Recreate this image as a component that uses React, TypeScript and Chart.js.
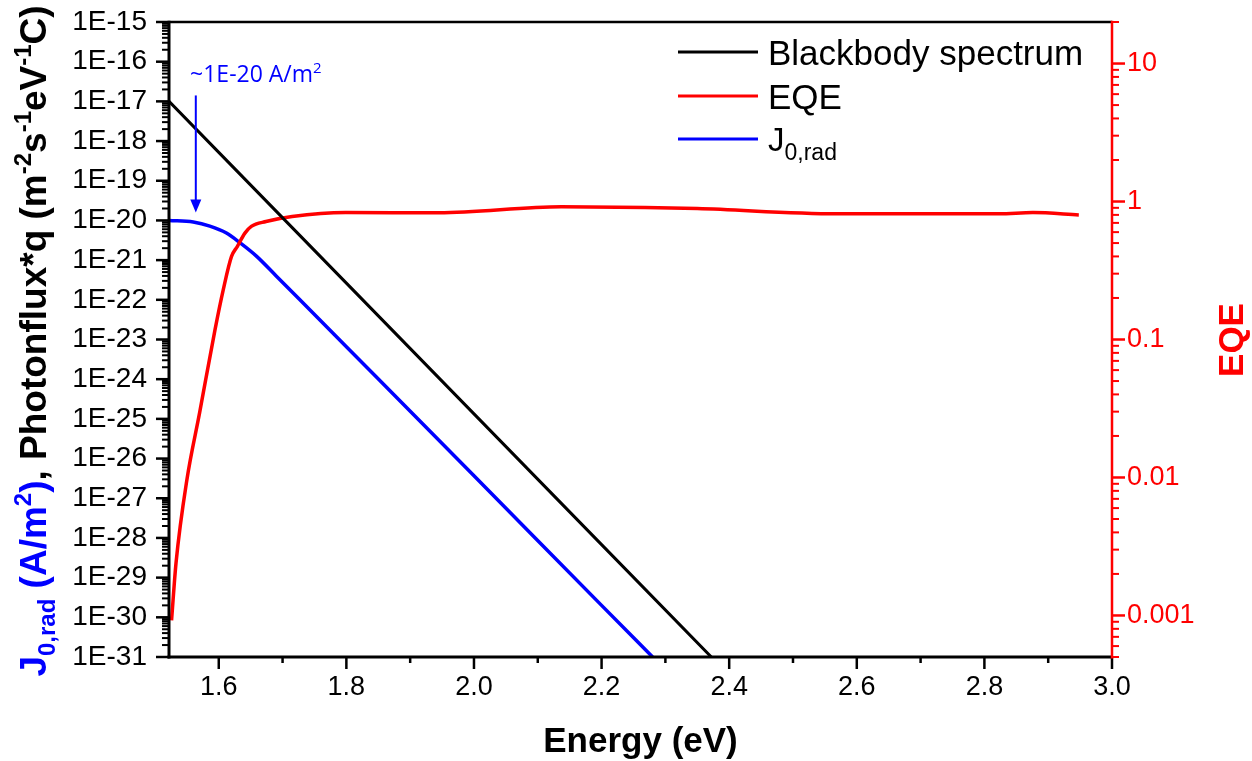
import React, { useEffect, useRef } from "react";
import { Chart, registerables } from "chart.js";

Chart.register(...registerables);

// ---------------- data ----------------
const bbEnergy = [1.522, 1.6, 1.8, 2.0, 2.2, 2.372];
const bbFlux = [1e-17, 5.2e-19, 2.64e-22, 1.34e-25, 6.8e-29, 1e-31];

const j0Energy = [1.522, 1.56, 1.586, 1.612, 1.633, 1.659, 1.69, 1.726, 1.8, 2.0, 2.2, 2.28];
const j0Values = [1e-20, 9.1e-21, 7.2e-21, 4.8e-21, 2.75e-21, 1.26e-21, 4.0e-22, 1.05e-22, 6.6e-24, 3.7e-27, 2.0e-30, 1e-31];

const eqeEnergy = [1.526, 1.533, 1.55, 1.57, 1.594, 1.607, 1.62, 1.629, 1.641, 1.651, 1.674, 1.715, 1.799, 1.945, 2.137, 2.268, 2.35, 2.569, 2.662, 2.823, 2.876, 2.948];
const eqeValues = [0.00092, 0.0024, 0.0096, 0.0295, 0.117, 0.229, 0.4, 0.472, 0.59, 0.66, 0.716, 0.778, 0.832, 0.828, 0.916, 0.905, 0.889, 0.815, 0.815, 0.815, 0.832, 0.8];

const seriesNames = ["Blackbody spectrum", "EQE", "J0,rad"];

const xMajorTicks = [1.6, 1.8, 2.0, 2.2, 2.4, 2.6, 2.8, 3.0];
const xMinorTicks = [1.7, 1.9, 2.1, 2.3, 2.5, 2.7, 2.9];
const leftDecades = [-31, -30, -29, -28, -27, -26, -25, -24, -23, -22, -21, -20, -19, -18, -17, -16, -15];
const eqeTickValues = [0.001, 0.01, 0.1, 1, 10];
const eqeTickLabels = ["0.001", "0.01", "0.1", "1", "10"];

// annotation (data units)
const annotText = "~1E-20 A/m";
const annotX = 1.555;
const annotTextY = 3.1e-17;
const arrowX = 1.564;
const arrowTop = 1.41e-17;
const arrowTip = 1.58e-20;

const BLUE = "#0000ff";
const RED = "#ff0000";
const BLACK = "#000000";
const FONT = "'Liberation Sans', Arial, sans-serif";

type Part = { t: string; s: number; c: string; dy?: number; bold?: boolean; fam?: string };

function drawRich(ctx: CanvasRenderingContext2D, parts: Part[], x: number, y: number, anchor: "start" | "center") {
  ctx.textBaseline = "alphabetic";
  ctx.textAlign = "left";
  const widths = parts.map((p) => {
    ctx.font = `${p.bold ? "bold " : ""}${p.s}px ${p.fam || FONT}`;
    return ctx.measureText(p.t).width;
  });
  const total = widths.reduce((a, b) => a + b, 0);
  let cx = anchor === "center" ? x - total / 2 : x;
  parts.forEach((p, i) => {
    ctx.font = `${p.bold ? "bold " : ""}${p.s}px ${p.fam || FONT}`;
    ctx.fillStyle = p.c;
    ctx.fillText(p.t, cx, y + (p.dy || 0));
    cx += widths[i];
  });
}

const zeroPad = (s: any) => {
  s.paddingTop = 0;
  s.paddingBottom = 0;
  s.paddingLeft = 0;
  s.paddingRight = 0;
};

const decorPlugin = {
  id: "decor",
  afterDraw(chart: any) {
    const { ctx, chartArea: ca, scales } = chart;
    const xs = scales.x;
    const ys = scales.y;
    const y2 = scales.y2;
    const seg = (x1: number, yA: number, x2: number, yB: number) => {
      ctx.beginPath();
      ctx.moveTo(x1, yA);
      ctx.lineTo(x2, yB);
      ctx.stroke();
    };
    ctx.save();
    ctx.lineCap = "butt";

    // frame
    ctx.strokeStyle = BLACK;
    ctx.lineWidth = 2.5;
    seg(ca.left, ca.top, ca.right, ca.top);
    ctx.lineWidth = 3;
    seg(ca.left, ca.top - 1.25, ca.left, ca.bottom + 1.5);
    seg(ca.left - 1.5, ca.bottom, ca.right, ca.bottom);

    // left ticks
    leftDecades.forEach((n) => {
      const v = Number(`1e${n}`);
      const py = ys.getPixelForValue(v);
      ctx.lineWidth = 2.5;
      seg(ca.left - 13, py, ca.left, py);
      if (n < -15) {
        ctx.lineWidth = 2;
        for (let m = 2; m <= 9; m++) {
          const pm = ys.getPixelForValue(Number(`${m}e${n}`));
          seg(ca.left - 7, pm, ca.left, pm);
        }
      }
    });

    // x ticks
    ctx.lineWidth = 2.5;
    xMajorTicks.forEach((v) => {
      const px = xs.getPixelForValue(v);
      seg(px, ca.bottom, px, ca.bottom + 12);
    });
    xMinorTicks.forEach((v) => {
      const px = xs.getPixelForValue(v);
      seg(px, ca.bottom, px, ca.bottom + 6);
    });

    // right axis (red)
    ctx.strokeStyle = RED;
    ctx.lineWidth = 2.5;
    seg(ca.right, ca.top - 1.25, ca.right, ca.bottom + 1.5);
    for (let n = -4; n <= 1; n++) {
      for (let m = 1; m <= 9; m++) {
        const v = Number(`${m}e${n}`);
        if (v < y2.min || v > y2.max) continue;
        const py = y2.getPixelForValue(v);
        if (m === 1) {
          ctx.lineWidth = 2.5;
          seg(ca.right, py, ca.right + 13, py);
        } else {
          ctx.lineWidth = 2;
          seg(ca.right, py, ca.right + 7, py);
        }
      }
    }

    // legend
    const legendRows = [
      { parts: [{ t: seriesNames[0], s: 35, c: BLACK }], color: BLACK, y: 52 },
      { parts: [{ t: seriesNames[1], s: 35, c: BLACK }], color: RED, y: 96 },
      {
        parts: [
          { t: "J", s: 33, c: BLACK },
          { t: "0,rad", s: 23, c: BLACK, dy: 9 },
        ],
        color: BLUE,
        y: 139,
      },
    ];
    const lx0 = ca.right - 434;
    const lx1 = ca.right - 354;
    legendRows.forEach((r, i) => {
      const ry = ca.top + r.y - 22;
      ctx.strokeStyle = r.color;
      ctx.lineWidth = 3;
      seg(lx0, ry, lx1, ry);
      drawRich(ctx, r.parts as Part[], lx1 + 10, ry + (i === 2 ? 12 : 12.5), "start");
    });

    // annotation
    const ax = xs.getPixelForValue(arrowX);
    const aTop = ys.getPixelForValue(arrowTop);
    const aTip = ys.getPixelForValue(arrowTip);
    ctx.strokeStyle = BLUE;
    ctx.fillStyle = BLUE;
    ctx.lineWidth = 2;
    seg(ax, aTop, ax, aTip - 10);
    ctx.beginPath();
    ctx.moveTo(ax, aTip);
    ctx.lineTo(ax - 5.5, aTip - 13);
    ctx.lineTo(ax + 5.5, aTip - 13);
    ctx.closePath();
    ctx.fill();
    drawRich(
      ctx,
      [
        { t: annotText, s: 23, c: BLUE, fam: "'Open Sans', sans-serif" },
        { t: "2", s: 15, c: BLUE, dy: -9, fam: "'Open Sans', sans-serif" },
      ],
      xs.getPixelForValue(annotX),
      ys.getPixelForValue(annotTextY),
      "start"
    );

    // x title
    ctx.textAlign = "center";
    ctx.textBaseline = "alphabetic";
    ctx.fillStyle = BLACK;
    ctx.font = `bold 35px ${FONT}`;
    ctx.fillText("Energy (eV)", (ca.left + ca.right) / 2, ca.bottom + 95);

    // left title (rotated)
    ctx.save();
    ctx.translate(46, 341);
    ctx.rotate(-Math.PI / 2);
    drawRich(
      ctx,
      [
        { t: "J", s: 37, c: BLUE, bold: true },
        { t: "0,rad", s: 24, c: BLUE, dy: 9, bold: true },
        { t: " (A/m", s: 37, c: BLUE, bold: true },
        { t: "2", s: 24, c: BLUE, dy: -15, bold: true },
        { t: ")", s: 37, c: BLUE, bold: true },
        { t: ", Photonflux*q (m", s: 37, c: BLACK, bold: true },
        { t: "-2", s: 24, c: BLACK, dy: -15, bold: true },
        { t: "s", s: 37, c: BLACK, bold: true },
        { t: "-1", s: 24, c: BLACK, dy: -15, bold: true },
        { t: "eV", s: 37, c: BLACK, bold: true },
        { t: "-1", s: 24, c: BLACK, dy: -15, bold: true },
        { t: "C)", s: 37, c: BLACK, bold: true },
      ],
      0,
      0,
      "center"
    );
    ctx.restore();

    // right title
    ctx.save();
    ctx.translate(1243, 340);
    ctx.rotate(-Math.PI / 2);
    ctx.textAlign = "center";
    ctx.textBaseline = "alphabetic";
    ctx.fillStyle = RED;
    ctx.font = `bold 35px ${FONT}`;
    ctx.fillText("EQE", 0, 0);
    ctx.restore();

    ctx.restore();
  },
};

export default function App() {
  const ref = useRef<HTMLCanvasElement | null>(null);

  useEffect(() => {
    if (!ref.current) return;
    const chart = new Chart(ref.current, {
      type: "line",
      data: {
        datasets: [
          {
            label: seriesNames[0],
            data: bbEnergy.map((x, i) => ({ x, y: bbFlux[i] })),
            borderColor: BLACK,
            borderWidth: 3,
            pointRadius: 0,
            yAxisID: "y",
            tension: 0,
          },
          {
            label: seriesNames[1],
            data: eqeEnergy.map((x, i) => ({ x, y: eqeValues[i] })),
            borderColor: RED,
            borderWidth: 3.5,
            pointRadius: 0,
            yAxisID: "y2",
            cubicInterpolationMode: "monotone",
          },
          {
            label: seriesNames[2],
            data: j0Energy.map((x, i) => ({ x, y: j0Values[i] })),
            borderColor: BLUE,
            borderWidth: 3.5,
            pointRadius: 0,
            yAxisID: "y",
            cubicInterpolationMode: "monotone",
          },
        ],
      },
      options: {
        responsive: false,
        animation: false,
        devicePixelRatio: 1,
        layout: { padding: { top: 22, left: 0, right: 0, bottom: 0 } },
        plugins: {
          legend: { display: false },
          tooltip: { enabled: false },
        },
        scales: {
          x: {
            type: "linear",
            position: "bottom",
            min: 1.522,
            max: 3.0,
            grid: { display: false, drawTicks: false },
            border: { display: false },
            afterBuildTicks: (s: any) => {
              s.ticks = xMajorTicks.map((value) => ({ value }));
            },
            afterFit: (s: any) => {
              s.height = 104;
              zeroPad(s);
            },
            ticks: {
              autoSkip: false,
              maxRotation: 0,
              padding: 14,
              color: BLACK,
              font: { family: FONT, size: 27 },
              callback: (v: any) => Number(v).toFixed(1),
            },
          },
          y: {
            type: "logarithmic",
            position: "left",
            min: 1e-31,
            max: 1e-15,
            grid: { display: false, drawTicks: false },
            border: { display: false },
            afterBuildTicks: (s: any) => {
              s.ticks = leftDecades.map((n) => ({ value: Number(`1e${n}`) }));
            },
            afterFit: (s: any) => {
              s.width = 169;
              zeroPad(s);
            },
            ticks: {
              autoSkip: false,
              padding: 22,
              color: BLACK,
              font: { family: FONT, size: 28 },
              callback: (v: any) => `1E${Math.round(Math.log10(Number(v)))}`,
            },
          },
          y2: {
            type: "logarithmic",
            position: "right",
            min: 0.0005,
            max: 20,
            grid: { display: false, drawTicks: false },
            border: { display: false },
            afterBuildTicks: (s: any) => {
              s.ticks = eqeTickValues.map((value) => ({ value }));
            },
            afterFit: (s: any) => {
              s.width = 140;
              zeroPad(s);
            },
            ticks: {
              autoSkip: false,
              padding: 15,
              color: RED,
              font: { family: FONT, size: 27 },
              callback: (v: any) => {
                const i = eqeTickValues.findIndex((t) => Math.abs(t - Number(v)) / t < 1e-6);
                return i >= 0 ? eqeTickLabels[i] : "";
              },
            },
          },
        },
      },
      plugins: [decorPlugin],
    } as any);
    return () => chart.destroy();
  }, []);

  return (
    <div style={{ position: "absolute", left: 0, top: 0, width: 1252, height: 761, background: "#fff" }}>
      <canvas ref={ref} width={1252} height={761} style={{ display: "block", width: 1252, height: 761 }} />
    </div>
  );
}
